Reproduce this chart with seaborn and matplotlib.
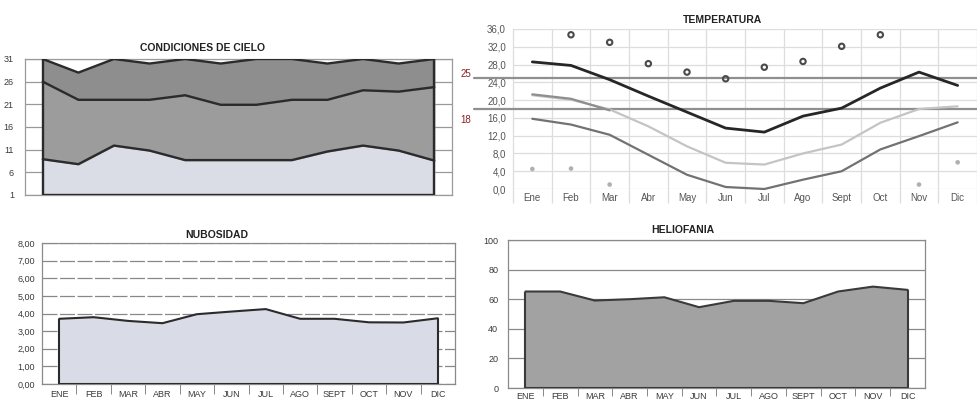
import numpy as np
import matplotlib
matplotlib.use("Agg")
import matplotlib.pyplot as plt
import seaborn as sns

# datos
meses_may = ["ENE", "FEB", "MAR", "ABR", "MAY", "JUN", "JUL", "AGO", "SEPT", "OCT", "NOV", "DIC"]
meses = ["Ene", "Feb", "Mar", "Abr", "May", "Jun", "Jul", "Ago", "Sept", "Oct", "Nov", "Dic"]

# condiciones de cielo (dias acumulados)
cielo_claro = [8.9, 7.8, 11.9, 10.8, 8.7, 8.7, 8.7, 8.7, 10.6, 11.9, 10.8, 8.6]
cielo_nublado = [26.0, 22.0, 22.0, 22.0, 23.0, 20.9, 20.9, 22.0, 22.0, 24.1, 23.8, 24.8]
dias_mes = [31, 28, 31, 30, 31, 30, 31, 31, 30, 31, 30, 31]

# temperatura
t_max_media = [28.6, 27.8, 24.6, 20.9, 17.3, 13.7, 12.8, 16.4, 18.2, 22.7, 26.3, 23.3]
t_media = [21.1, 20.1, 17.9, 14.1, 9.6, 5.9, 5.5, 8.0, 10.0, 14.9, 18.0, 18.6]
t_media_ini = [21.3, 20.3, 17.7]
t_min_media = [15.8, 14.5, 12.2, 7.7, 3.2, 0.45, 0.0, 2.1, 4.0, 8.9, 11.9, 15.0]
t_max_abs = [np.nan, 34.7, 33.0, 28.2, 26.3, 24.8, 27.4, 28.7, 32.1, 34.7, np.nan, np.nan]
t_min_abs = [4.5, 4.6, 1.0, np.nan, np.nan, np.nan, np.nan, np.nan, np.nan, np.nan, 1.0, 6.0]
limites = [25, 18]

# nubosidad y heliofania
nubosidad = [3.70, 3.79, 3.58, 3.45, 3.96, 4.11, 4.25, 3.70, 3.70, 3.50, 3.49, 3.73]
heliofania = [65.2, 65.2, 59.1, 60.0, 61.3, 54.6, 58.9, 58.9, 57.3, 65.2, 68.5, 66.3]

sns.set_theme(style="white")
plt.rcParams["font.family"] = ["Liberation Sans", "DejaVu Sans"]

W, H = 978, 401
fig = plt.figure(figsize=(W / 100, H / 100), dpi=100)
fig.patch.set_facecolor("white")


def caja(x0, y0, x1, y1):
    return [x0 / W, 1 - y1 / H, (x1 - x0) / W, (y1 - y0) / H]


def titulo(txt, x, y):
    fig.text(x / W, 1 - y / H, txt, ha="center", va="center",
             fontsize=7.5, fontweight="bold", color="#222222")


x = np.arange(12)
borde = "#2b2b2b"
tick_col = "#3a3a3a"

# ---- CONDICIONES DE CIELO
ax1 = fig.add_axes(caja(25, 59, 452, 195))
ax1.set_xlim(-0.5, 11.5)
ax1.set_ylim(1, 31)
ax1.set_yticks([1, 6, 11, 16, 21, 26, 31])
ax1.set_xticks([])
ax1.tick_params(axis="y", labelsize=6.5, colors=tick_col, pad=8, length=0)
ax1.yaxis.grid(True, color="#999999", lw=0.9)
ax1.set_axisbelow(True)
ax1.fill_between(x, 1, cielo_claro, color="#dadde6", zorder=2)
ax1.fill_between(x, cielo_claro, cielo_nublado, color="#9c9c9c", zorder=2)
ax1.fill_between(x, cielo_nublado, dias_mes, color="#8e8e8e", zorder=2)
for serie in (cielo_claro, cielo_nublado, dias_mes):
    sns.lineplot(x=x, y=serie, ax=ax1, color=borde, lw=1.7, zorder=3)
ax1.vlines([0, 11], 1, [dias_mes[0], dias_mes[-1]], color=borde, lw=1.7, zorder=3)
ax1.hlines(1, 0, 11, color=borde, lw=1.7, zorder=3)
for s in ax1.spines.values():
    s.set_color("#9a9a9a")
    s.set_linewidth(0.9)
titulo("CONDICIONES DE CIELO", 202, 48)

# ---- TEMPERATURA
ax2 = fig.add_axes(caja(513, 29, 977, 189))
ax2.set_xlim(-0.5, 11.5)
ax2.set_ylim(0, 36)
ax2.set_yticks(np.arange(0, 37, 4))
ax2.set_yticklabels([f"{v:.1f}".replace(".", ",") for v in np.arange(0, 37, 4)])
ax2.set_xticks(x)
ax2.set_xticklabels(meses)
ax2.tick_params(axis="y", labelsize=7, colors="#555555", pad=5, length=0)
ax2.tick_params(axis="x", labelsize=7, colors="#555555", pad=3, length=0)
for s in ax2.spines.values():
    s.set_visible(False)
ax2.yaxis.grid(True, color="#dddddd", lw=0.9)
ax2.set_axisbelow(True)
ax2.vlines(np.arange(-0.5, 12, 1), -3.2, 36, color="#dddddd", lw=0.9,
           clip_on=False, zorder=0)
for lim in limites:
    ax2.axhline(lim, xmin=-0.085, xmax=1.0, color="#8f8f8f", lw=1.6,
                clip_on=False, zorder=1)
sns.lineplot(x=x, y=t_media, ax=ax2, color="#c4c4c4", lw=1.6, zorder=3)
sns.lineplot(x=x[:3], y=t_media_ini, ax=ax2, color="#8e8e8e", lw=1.6, zorder=3)
sns.lineplot(x=x, y=t_min_media, ax=ax2, color="#727272", lw=1.6, zorder=3)
sns.lineplot(x=x, y=t_max_media, ax=ax2, color="#262626", lw=2.0, zorder=4)
for l in ax2.lines:
    l.set_clip_on(False)
    l.set_solid_joinstyle("round")
sns.scatterplot(x=x, y=t_max_abs, ax=ax2, s=15, facecolor="none",
                edgecolor="#4a4a4a", linewidth=1.5, zorder=5, clip_on=False)
sns.scatterplot(x=x, y=t_min_abs, ax=ax2, s=11, color="#b0b0b0",
                edgecolor="none", zorder=5, clip_on=False)
for lim, yy in zip(limites, [74, 120]):
    fig.text(466 / W, 1 - yy / H, str(lim), ha="center", va="center",
             fontsize=7, color="#8b2020")
titulo("TEMPERATURA", 723, 20)

# ---- NUBOSIDAD
ax3 = fig.add_axes(caja(42, 243, 455, 384))
ax3.set_xlim(-0.5, 11.5)
ax3.set_ylim(0, 8)
ax3.set_yticks(np.arange(0, 9))
ax3.set_yticklabels([f"{v:.2f}".replace(".", ",") for v in np.arange(0, 9)])
ax3.set_xticks(x)
ax3.set_xticklabels(meses_may)
ax3.set_xticks(np.arange(0.5, 11, 1), minor=True)
ax3.tick_params(axis="y", labelsize=6.5, colors=tick_col, pad=5, length=0)
ax3.tick_params(axis="x", which="major", labelsize=6.5, colors=tick_col, pad=4, length=0)
ax3.tick_params(axis="x", which="minor", length=7, width=0.7, color="#888888",
                direction="out", bottom=True)
ax3.yaxis.grid(True, color="#888888", lw=0.9, ls=(0, (12, 2)))
ax3.set_axisbelow(True)
ax3.fill_between(x, 0, nubosidad, color="#d9dce6", zorder=2)
sns.lineplot(x=x, y=nubosidad, ax=ax3, color=borde, lw=1.5, zorder=3)
ax3.vlines([0, 11], 0, [nubosidad[0], nubosidad[-1]], color=borde, lw=1.5, zorder=3)
ax3.hlines(0, 0, 11, color=borde, lw=1.5, zorder=3)
for s in ax3.spines.values():
    s.set_color("#8a8a8a")
    s.set_linewidth(0.9)
titulo("NUBOSIDAD", 217, 235)

# ---- HELIOFANIA
ax4 = fig.add_axes(caja(508, 240, 925, 388))
ax4.set_xlim(-0.5, 11.5)
ax4.set_ylim(0, 100)
ax4.set_yticks(np.arange(0, 101, 20))
ax4.set_xticks(x)
ax4.set_xticklabels(meses_may)
ax4.set_xticks(np.arange(0.5, 11, 1), minor=True)
ax4.tick_params(axis="y", labelsize=6.5, colors=tick_col, pad=7, length=0)
ax4.tick_params(axis="x", which="major", labelsize=6.5, colors=tick_col, pad=3, length=0)
ax4.tick_params(axis="x", which="minor", length=6, width=0.7, color="#888888",
                direction="out", bottom=True)
ax4.yaxis.grid(True, color="#8a8a8a", lw=0.9)
ax4.set_axisbelow(True)
ax4.fill_between(x, 0, heliofania, color="#a2a2a2", zorder=2)
sns.lineplot(x=x, y=heliofania, ax=ax4, color="#3a3a3a", lw=1.5, zorder=3)
ax4.vlines([0, 11], 0, [heliofania[0], heliofania[-1]], color="#3a3a3a", lw=1.5, zorder=3)
ax4.hlines(0, 0, 11, color="#3a3a3a", lw=1.5, zorder=3)
for s in ax4.spines.values():
    s.set_color("#8a8a8a")
    s.set_linewidth(0.9)
titulo("HELIOFANIA", 683, 230)

fig.savefig("out.png", dpi=100, facecolor="white")
